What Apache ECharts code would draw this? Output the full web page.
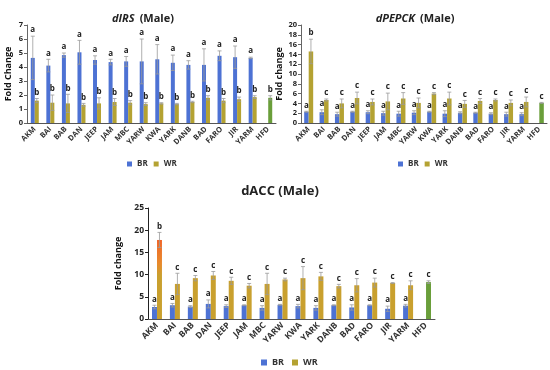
<!DOCTYPE html>
<html>
<head>
<meta charset="utf-8">
<script src="https://cdn.jsdelivr.net/npm/echarts@6/dist/echarts.min.js"></script>
<style>html,body{margin:0;padding:0;background:#fff}#c{width:550px;height:370px}</style>
</head>
<body>
<div id="c"></div>
<script>
// ---- data ----
const categories = ['AKM','BAI','BAB','DAN','JEEP','JAM','MBC','YARW','KWA','YARK','DANB','BAD','FARO','JIR','YARM','HFD'];

// dIRS (Male)
const irsBR    = [4.65,4.1,4.85,5.05,4.5,4.35,4.4,4.4,4.55,4.3,4.15,4.15,4.8,4.7,4.65,null];
const irsBRErr = [1.55,0.45,0.15,0.85,0.3,0.2,0.35,1.6,1.05,0.55,0.3,1.15,0.35,0.8,0.05,null];
const irsWR    = [1.6,1.45,1.4,1.3,1.4,1.5,1.45,1.35,1.4,1.35,1.5,1.8,1.6,1.7,1.85,1.8];
const irsWRErr = [0.15,0.55,0.65,0.1,0.4,0.25,0.15,0.1,0.05,0.05,0.05,0.15,0.15,0.15,0.1,0.15];
const irsBRLet = ['a','a','a','a','a','a','a','a','a','a','a','a','a','a','a',''];
const irsWRLet = ['b','b','b','b','b','b','b','b','b','b','b','b','b','b','b','b'];

// dPEPCK (Male)
const pepBR    = [2.3,2.2,1.8,2.3,2.2,2.0,1.9,2.1,2.3,1.9,2.1,2.1,1.9,1.8,1.8,null];
const pepBRErr = [0.1,0.5,0.4,0.1,0.3,0.4,0.5,0.4,0.1,0.6,0.2,0.1,0.2,0.4,0.3,null];
const pepWR    = [14.6,4.7,4.0,5.1,4.3,4.4,5.0,4.1,6.0,5.0,3.9,4.5,4.7,4.1,4.3,4.1];
const pepWRErr = [2.5,0.2,0.9,1.2,0.6,1.7,1.2,1.0,0.2,1.3,0.7,0.5,0.2,0.6,1.0,0.1];
const pepBRLet = ['a','a','a','a','a','a','a','a','a','a','a','a','a','a','a',''];
const pepWRLet = ['b','c','c','c','c','c','c','c','c','c','c','c','c','c','c','c'];

// dACC (Male)
const accBR    = [2.7,3.1,2.8,3.4,2.9,3.1,2.5,3.2,2.9,2.5,3.1,2.6,3.1,2.3,3.0,null];
const accBRErr = [0.4,0.4,0.2,0.9,0.3,0.1,0.5,0.1,0.4,0.5,0.1,0.6,0.1,0.6,0.3,null];
const accWR    = [17.8,7.9,9.2,9.8,8.6,7.5,7.9,8.9,9.2,9.6,7.4,7.6,8.2,8.1,7.6,8.3];
const accWRErr = [1.7,2.4,0.6,0.9,0.8,0.5,2.4,0.3,2.6,0.9,0.4,1.5,1.0,0.1,1.0,0.3];
const accBRLet = ['a','a','a','a','a','a','a','a','a','a','a','a','a','a','a',''];
const accWRLet = ['b','c','c','c','c','c','c','c','c','c','c','c','c','c','c','c'];

const BRC = '#4d72d4', WRC = '#b4a232', HFDC = '#6a9e3a', ACCWR = '#c9a02e';

const chart = echarts.init(document.getElementById('c'));
const FF = 'Open Sans, Liberation Sans, sans-serif';

function wrData(vals, color, firstColor) {
  return vals.map((v, i) => {
    if (i === vals.length - 1) return {value: v, itemStyle: {color: HFDC}};
    if (i === 0 && firstColor) return {value: v, itemStyle: {color: firstColor}};
    return {value: v, itemStyle: {color: color}};
  });
}
function errSeries(idx, vals, errs, lets, side, bw, gap) {
  const data = vals.map((v, i) => v == null ? [i, null, null, ''] : [i, v - errs[i], v + errs[i], lets[i]]);
  return {
    type: 'custom', xAxisIndex: idx, yAxisIndex: idx, z: 5,
    encode: {x: 0, y: [1, 2]},
    data: data,
    renderItem: function (params, api) {
      const lo = api.value(1), hi = api.value(2);
      if (lo == null || isNaN(lo)) return null;
      const c = api.coord([api.value(0), hi]);
      const cl = api.coord([api.value(0), lo]);
      const x = c[0] + side * (bw / 2 + gap / 2);
      const cap = 2;
      const letter = data[params.dataIndex][3];
      return {type: 'group', children: [
        {type: 'line', shape: {x1: x, y1: c[1], x2: x, y2: cl[1]}, style: {stroke: '#9a9a9a', lineWidth: 0.8}},
        {type: 'line', shape: {x1: x - cap, y1: c[1], x2: x + cap, y2: c[1]}, style: {stroke: '#9a9a9a', lineWidth: 0.8}},
        {type: 'line', shape: {x1: x - cap, y1: cl[1], x2: x + cap, y2: cl[1]}, style: {stroke: '#9a9a9a', lineWidth: 0.8}},
        {type: 'text', style: {text: letter, x: x, y: c[1] - 2, textAlign: 'center', textVerticalAlign: 'bottom',
          fill: '#222', font: 'bold 8px ' + FF}}
      ]};
    }
  };
}

const xAxisBase = (idx, fs) => ({
  type: 'category', gridIndex: idx, data: categories,
  axisLine: {lineStyle: {color: '#555'}}, axisTick: {show: false},
  axisLabel: {rotate: 45, fontSize: fs, fontWeight: 'bold', color: '#333', margin: 5, fontFamily: FF, interval: 0}
});
const yAxisBase = (idx, max, interval, name, gap, fs) => ({
  type: 'value', gridIndex: idx, min: 0, max: max, interval: interval,
  name: name, nameLocation: 'middle', nameGap: gap,
  nameTextStyle: {fontSize: 9, fontWeight: 'bold', color: '#111', fontFamily: FF},
  axisLine: {show: true, lineStyle: {color: idx === 2 ? '#222' : '#666'}},
  axisTick: {show: true, length: 3, lineStyle: {color: idx === 2 ? '#222' : '#666'}},
  splitLine: {show: false},
  axisLabel: {fontSize: fs, fontWeight: 'bold', color: '#222', margin: 4, fontFamily: FF}
});

const akmGrad = new echarts.graphic.LinearGradient(0, 0, 0, 1, [
  {offset: 0, color: '#f0662a'}, {offset: 0.3, color: '#e88a2c'}, {offset: 0.45, color: ACCWR}, {offset: 1, color: ACCWR}
]);

const option = {
  animation: false,
  title: [
    {text: '{i|dIRS} {n|(Male)}', left: 138, top: 5, textAlign: 'center',
     textStyle: {rich: {i: {fontStyle: 'italic', fontWeight: 'bold', fontSize: 11, fontFamily: FF, color: '#222'},
                        n: {fontWeight: 'bold', fontSize: 11, fontFamily: FF, color: '#222'}}}},
    {text: '{i|dPEPCK} {n|(Male)}', left: 410, top: 5, textAlign: 'center',
     textStyle: {rich: {i: {fontStyle: 'italic', fontWeight: 'bold', fontSize: 11, fontFamily: FF, color: '#222'},
                        n: {fontWeight: 'bold', fontSize: 11, fontFamily: FF, color: '#222'}}}},
    {text: 'dACC (Male)', left: 275, top: 180, textAlign: 'center',
     textStyle: {fontWeight: 'bold', fontSize: 13, fontFamily: FF, color: '#222'}}
  ],
  legend: [
    {left: 122, top: 155, data: ['BR', 'WR'], icon: 'rect', itemWidth: 5, itemHeight: 5, itemGap: 6,
     textStyle: {fontSize: 8, fontWeight: 'bold', color: '#333', fontFamily: FF}},
    {left: 393, top: 155, data: ['BR', 'WR'], icon: 'rect', itemWidth: 5, itemHeight: 5, itemGap: 6,
     textStyle: {fontSize: 8, fontWeight: 'bold', color: '#333', fontFamily: FF}},
    {left: 256, top: 353, data: ['BR', 'WR'], icon: 'rect', itemWidth: 6, itemHeight: 6, itemGap: 8,
     textStyle: {fontSize: 9, fontWeight: 'bold', color: '#333', fontFamily: FF}}
  ],
  grid: [
    {left: 27, right: 550 - 276, top: 25, height: 98},
    {left: 301, right: 3, top: 25, height: 98},
    {left: 148, right: 550 - 435, top: 208, height: 111}
  ],
  xAxis: [xAxisBase(0, 7.5), xAxisBase(1, 7.5), xAxisBase(2, 8.5)],
  yAxis: [
    yAxisBase(0, 7, 1, 'Fold Change', 14, 7.5),
    yAxisBase(1, 20, 2, 'Fold change', 17, 7.5),
    yAxisBase(2, 25, 5, 'Fold change', 18, 8.5)
  ],
  series: [
    {name: 'BR', type: 'bar', xAxisIndex: 0, yAxisIndex: 0, data: irsBR, barWidth: 4, barGap: '0%', itemStyle: {color: BRC}},
    {name: 'WR', type: 'bar', xAxisIndex: 0, yAxisIndex: 0, data: wrData(irsWR, WRC), barWidth: 4, barGap: '0%', itemStyle: {color: WRC}},
    errSeries(0, irsBR, irsBRErr, irsBRLet, -1, 4, 0),
    errSeries(0, irsWR, irsWRErr, irsWRLet, 1, 4, 0),

    {name: 'BR', type: 'bar', xAxisIndex: 1, yAxisIndex: 1, data: pepBR, barWidth: 4.5, barGap: '0%', itemStyle: {color: BRC}},
    {name: 'WR', type: 'bar', xAxisIndex: 1, yAxisIndex: 1, data: wrData(pepWR, WRC), barWidth: 4.5, barGap: '0%', itemStyle: {color: WRC}},
    errSeries(1, pepBR, pepBRErr, pepBRLet, -1, 4.5, 0),
    errSeries(1, pepWR, pepWRErr, pepWRLet, 1, 4.5, 0),

    {name: 'BR', type: 'bar', xAxisIndex: 2, yAxisIndex: 2, data: accBR, barWidth: 5, barGap: '0%', itemStyle: {color: BRC}},
    {name: 'WR', type: 'bar', xAxisIndex: 2, yAxisIndex: 2, data: wrData(accWR, ACCWR, akmGrad), barWidth: 5, barGap: '0%', itemStyle: {color: WRC}},
    errSeries(2, accBR, accBRErr, accBRLet, -1, 5, 0),
    errSeries(2, accWR, accWRErr, accWRLet, 1, 5, 0)
  ]
};
chart.setOption(option);
</script>
</body>
</html>
